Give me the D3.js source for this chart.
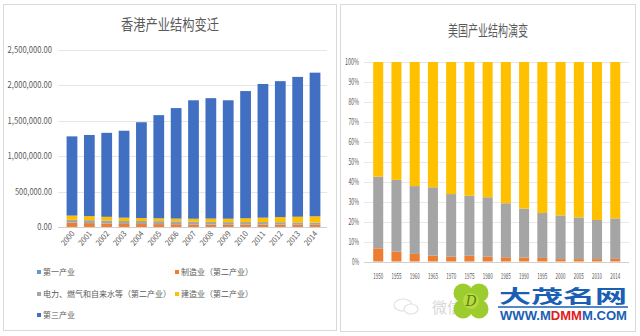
<!DOCTYPE html>
<html>
<head>
<meta charset="utf-8">
<script src="https://d3js.org/d3.v7.min.js"></script>
<style>
  body { margin: 0; background: #fff; }
  svg { display: block; font-family: "Noto Sans CJK SC", "Noto Sans", sans-serif; }
</style>
</head>
<body>
<svg id="chart" width="640" height="336"></svg>
<script>
// ---- Hong Kong data (HK$ million) ----
const hkYears = ['2000','2001','2002','2003','2004','2005','2006','2007','2008','2009','2010','2011','2012','2013','2014'];
const hkPrimary      = [1000, 900, 900, 800, 800, 700, 700, 800, 900, 900, 1000, 1000, 1100, 1100, 1100];
const hkManufacture  = [60000, 54000, 48000, 42000, 41000, 40000, 38000, 35000, 32000, 30000, 32000, 33000, 32000, 31000, 30000];
const hkUtilities    = [40000, 42000, 43000, 42000, 43000, 42000, 41000, 40000, 39000, 38000, 37000, 36000, 35000, 33000, 32000];
const hkConstruction = [60000, 56000, 52000, 47000, 42000, 40000, 39000, 41000, 47000, 48000, 53000, 62000, 72000, 80000, 88000];
const hkTertiary     = [1119000, 1147000, 1186000, 1228000, 1353000, 1457000, 1561000, 1673000, 1701000, 1673000, 1797000, 1888000, 1920000, 1975000, 2029000];
const hkTicks = [0, 500000, 1000000, 1500000, 2000000, 2500000];
const hkLegend = ['第一产业', '制造业（第二产业）', '电力、燃气和自来水等（第二产业）', '建造业（第二产业）', '第三产业'];

// ---- US data (% share) ----
const usYears = ['1950','1955','1960','1965','1970','1975','1980','1985','1990','1995','2000','2005','2010','2014'];
const usPrimary   = [6.6, 4.9, 3.8, 2.9, 2.4, 2.9, 2.4, 2.1, 2.0, 1.8, 1.2, 1.2, 1.2, 1.3];
const usSecondary = [35.9, 36.0, 34.0, 34.3, 31.4, 30.1, 29.8, 27.1, 24.5, 22.5, 21.9, 20.9, 19.6, 20.3];
const usTertiary  = [57.5, 59.1, 62.2, 62.8, 66.2, 67.0, 67.8, 70.8, 73.5, 75.7, 76.9, 77.9, 79.2, 78.4];
const usTicks = [0, 10, 20, 30, 40, 50, 60, 70, 80, 90, 100];

const hkColors = ['#5B9BD5', '#ED7D31', '#A5A5A5', '#FFC000', '#4170C2'];
const usColors = ['#ED7D31', '#A5A5A5', '#FFC000'];
const textColor = '#595959';

const svg = d3.select('#chart');
svg.append('rect').attr('width', 640).attr('height', 336).attr('fill', '#fff');

// panel frames
svg.append('rect').attr('x', 3.5).attr('y', 4.5).attr('width', 333).attr('height', 326)
  .attr('fill', '#fff').attr('stroke', '#d9d9d9');
svg.append('rect').attr('x', 340.5).attr('y', 4.5).attr('width', 295).attr('height', 327)
  .attr('fill', '#fff').attr('stroke', '#d9d9d9');

// ================= left: Hong Kong =================
const hkRows = hkYears.map((y, i) => ({
  year: y, k0: hkPrimary[i], k1: hkManufacture[i], k2: hkUtilities[i], k3: hkConstruction[i], k4: hkTertiary[i]
}));
const hkKeys = ['k0', 'k1', 'k2', 'k3', 'k4'];
const hkSeries = d3.stack().keys(hkKeys)(hkRows);

const hx = d3.scaleBand().domain(hkYears).range([60, 327]).padding(0.38);
const hy = d3.scaleLinear().domain([0, 2500000]).range([227, 50]);

svg.append('text').attr('x', 170).attr('y', 30).attr('text-anchor', 'middle')
  .attr('font-size', 15).attr('fill', textColor)
  .attr('textLength', 98).attr('lengthAdjust', 'spacingAndGlyphs')
  .text('香港产业结构变迁');

const hkGrid = svg.append('g');
hkGrid.selectAll('line').data(hkTicks).join('line')
  .attr('x1', 58).attr('x2', 327)
  .attr('y1', d => Math.round(hy(d)) + 0.5).attr('y2', d => Math.round(hy(d)) + 0.5)
  .attr('stroke', d => d === 0 ? '#d0d0d0' : '#e6e6e6');

const hkFmt = d3.format(',.2f');
svg.append('g').selectAll('text').data(hkTicks).join('text')
  .attr('x', 52).attr('y', d => hy(d) + 3)
  .attr('text-anchor', 'end').attr('font-size', 9).attr('fill', textColor)
  .attr('textLength', d => hkFmt(d).length * 3.7).attr('lengthAdjust', 'spacingAndGlyphs')
  .text(d => hkFmt(d));

svg.append('g').selectAll('g').data(hkSeries).join('g')
  .attr('fill', (d, i) => hkColors[i])
  .selectAll('rect').data(d => d).join('rect')
  .attr('x', d => hx(d.data.year))
  .attr('width', hx.bandwidth())
  .attr('y', d => hy(d[1]))
  .attr('height', d => hy(d[0]) - hy(d[1]));

svg.append('g').selectAll('text').data(hkYears).join('text')
  .attr('transform', d => `translate(${hx(d) + hx.bandwidth() / 2 + 3},${234}) rotate(-50)`)
  .attr('text-anchor', 'end').attr('font-size', 8).attr('fill', textColor)
  .attr('textLength', 16).attr('lengthAdjust', 'spacingAndGlyphs')
  .text(d => d);

// legend
const legendPos = [[37, 275], [175, 275], [37, 297], [175, 297], [37, 318]];
const lg = svg.append('g').selectAll('g').data(hkLegend).join('g')
  .attr('transform', (d, i) => `translate(${legendPos[i][0]},${legendPos[i][1]})`);
lg.append('rect').attr('x', 0).attr('y', -5).attr('width', 4).attr('height', 4)
  .attr('fill', (d, i) => hkColors[i]);
lg.append('text').attr('x', 6).attr('y', 0).attr('font-size', 8).attr('fill', textColor)
  .text(d => d);

// ================= right: US =================
const usRows = usYears.map((y, i) => ({ year: y, a: usPrimary[i], b: usSecondary[i], c: usTertiary[i] }));
const usSeries = d3.stack().keys(['a', 'b', 'c'])(usRows);

const ux = d3.scaleBand().domain(usYears).range([365, 628.5]).padding(0.45);
const uy = d3.scaleLinear().domain([0, 100]).range([261.5, 62]);

svg.append('text').attr('x', 488).attr('y', 36).attr('text-anchor', 'middle')
  .attr('font-size', 15).attr('fill', textColor)
  .attr('textLength', 80).attr('lengthAdjust', 'spacingAndGlyphs')
  .text('美国产业结构演变');

svg.append('g').selectAll('line').data(usTicks).join('line')
  .attr('x1', 364).attr('x2', 629)
  .attr('y1', d => Math.round(uy(d)) + 0.5).attr('y2', d => Math.round(uy(d)) + 0.5)
  .attr('stroke', d => d === 0 ? '#d0d0d0' : '#e8e8e8');

svg.append('g').selectAll('text').data(usTicks).join('text')
  .attr('x', 359).attr('y', d => uy(d) + 3)
  .attr('text-anchor', 'end').attr('font-size', 8.5).attr('fill', textColor)
  .attr('textLength', d => (d + '%').length * 3.5).attr('lengthAdjust', 'spacingAndGlyphs')
  .text(d => d + '%');

svg.append('g').selectAll('g').data(usSeries).join('g')
  .attr('fill', (d, i) => usColors[i])
  .selectAll('rect').data(d => d).join('rect')
  .attr('x', d => ux(d.data.year))
  .attr('width', ux.bandwidth())
  .attr('y', d => uy(d[1]))
  .attr('height', d => uy(d[0]) - uy(d[1]));

svg.append('g').selectAll('text').data(usYears).join('text')
  .attr('x', d => ux(d) + ux.bandwidth() / 2).attr('y', 279)
  .attr('text-anchor', 'middle').attr('font-size', 8).attr('fill', textColor)
  .attr('textLength', 10).attr('lengthAdjust', 'spacingAndGlyphs')
  .text(d => d);

// ================= watermark =================
const wm = svg.append('g');
wm.append('ellipse').attr('cx', 403).attr('cy', 305).attr('rx', 9).attr('ry', 6)
  .attr('fill', 'none').attr('stroke', '#e2e2e2').attr('stroke-width', 1.2);
wm.append('ellipse').attr('cx', 411).attr('cy', 309).attr('rx', 7).attr('ry', 5)
  .attr('fill', '#fff').attr('stroke', '#e2e2e2').attr('stroke-width', 1.2);
wm.append('text').attr('x', 432).attr('y', 313).attr('font-size', 15).attr('fill', '#d8d8d8').text('微信');

// clover
const clover = wm.append('g').attr('transform', 'translate(471,301)');
[[-8, -8], [8, -8], [-8, 8], [8, 8]].forEach(([dx, dy]) => {
  clover.append('circle').attr('cx', dx).attr('cy', dy).attr('r', 9.5).attr('fill', '#9ccc2e');
});
clover.append('circle').attr('cx', 0).attr('cy', 0).attr('r', 8).attr('fill', '#b5dc3c');
clover.append('text').attr('x', 0).attr('y', 5).attr('text-anchor', 'middle')
  .attr('font-size', 14).attr('font-style', 'italic').attr('font-family', 'DejaVu Serif')
  .attr('fill', '#5d7f1a').text('D');

wm.append('text').attr('x', 563).attr('y', 303).attr('text-anchor', 'middle')
  .attr('font-size', 18).attr('font-weight', 'bold').attr('fill', '#1a5fb4')
  .attr('textLength', 128).attr('lengthAdjust', 'spacingAndGlyphs')
  .text('大茂名网');
wm.append('line').attr('x1', 498).attr('x2', 628).attr('y1', 307).attr('y2', 307)
  .attr('stroke', '#1a5fb4').attr('stroke-width', 1.5);
const url = wm.append('text').attr('x', 500).attr('y', 320)
  .attr('font-size', 12).attr('font-weight', 'bold').attr('font-family', 'Liberation Sans, Arial, sans-serif')
  .attr('textLength', 127).attr('lengthAdjust', 'spacingAndGlyphs');
url.append('tspan').attr('fill', '#1a5fb4').text('WWW.M');
url.append('tspan').attr('fill', '#e02020').text('DMM');
url.append('tspan').attr('fill', '#1a5fb4').text('M.COM');
</script>
</body>
</html>
